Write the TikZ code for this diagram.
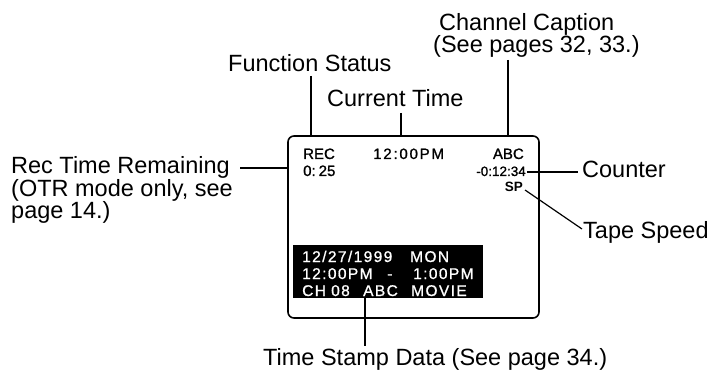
\documentclass[tikz,border=0pt]{standalone}
\usepackage{fontspec}
\setmainfont{Liberation Sans}
\newfontfamily\osdfont[FakeBold=1.2]{Liberation Sans}
\newfontfamily\osdclock[LetterSpace=12,FakeBold=1.2]{Liberation Sans}
\newfontfamily\osdwide[LetterSpace=9,FakeBold=1]{Liberation Sans}
\begin{document}
\begin{tikzpicture}[x=1pt,y=-1pt,
  lbl/.style={inner sep=0pt, font=\fontsize{23.5pt}{22.5pt}\selectfont, align=left},
  osdtxt/.style={inner sep=0pt, font=\osdfont\fontsize{15pt}{15pt}\selectfont},
  osdsmall/.style={inner sep=0pt, font=\osdfont\fontsize{13.5pt}{13.5pt}\selectfont},
  tstxt/.style={inner sep=0pt, text=white, font=\osdwide\fontsize{15.5pt}{15.5pt}\selectfont},
  conn/.style={line width=1.2pt},
  screen/.style={draw, line width=1.6pt, rounded corners=6pt, minimum width=251pt, minimum height=182pt, inner sep=0pt},
  tsbox/.style={fill=black, minimum width=190pt, minimum height=53pt, inner sep=0pt}]
\useasboundingbox (0,0) rectangle (708,371);

% screen and time stamp box
\node[screen] (scr) at (413.5,227) {};
\node[tsbox] (tsb) at (388,271.5) {};

% on-screen texts
\node[osdtxt, anchor=base west] (rec) at (303,159) {REC};
\node[osdtxt, anchor=base west] (remain) at (303,176) {0:\hspace{3pt}25};
\node[osdtxt, anchor=base west, font=\osdclock\fontsize{15pt}{15pt}\selectfont] (clock) at (373,159) {12:00PM};
\node[osdtxt, anchor=base east] (abc) at (524,159) {ABC};
\node[osdsmall, anchor=base east] (cnt) at (526,176) {-0:12:34};
\node[osdsmall, anchor=base east, font=\bfseries\fontsize{13.5pt}{13.5pt}\selectfont] (sp) at (523,192) {SP};

\node[tstxt, anchor=base west] (ts1) at (302,262) {\makebox[108pt][l]{12/27/1999}MON};
\node[tstxt, anchor=base west] (ts2) at (302,279) {\makebox[85pt][l]{12:00PM}\makebox[26pt][l]{-}1:00PM};
\node[tstxt, anchor=base west] (ts3) at (302,296) {\makebox[29pt][l]{CH}\makebox[32pt][l]{08}\makebox[48pt][l]{ABC}MOVIE};

% labels
\node[lbl, anchor=base west] (fs) at (228,72) {Function Status};
\node[lbl, anchor=base west] (ct) at (327,106.5) {Current Time};
\node[lbl, anchor=north west] (cc) at (433,13) {\hspace*{6pt}Channel Caption\\(See pages 32, 33.)};
\node[lbl, anchor=north west] (rtr) at (11,156.5) {Rec Time Remaining\\(OTR mode only, see\\page 14.)};
\node[lbl, anchor=base west] (counter) at (582,178) {Counter};
\node[lbl, anchor=base west] (tape) at (583,238) {Tape Speed};
\node[lbl, anchor=base west] (tsd) at (263,365) {Time Stamp Data (See page 34.)};

% connector end points
\coordinate (fs-a) at (311,76);
\coordinate (fs-b) at (311,136);
\coordinate (ct-a) at (401,113);
\coordinate (ct-b) at (401,136);
\coordinate (cc-a) at (508,60);
\coordinate (cc-b) at (508,136);
\coordinate (rtr-a) at (240,168);
\coordinate (rtr-b) at (288,168);
\coordinate (cnt-a) at (527,172);
\coordinate (cnt-b) at (578,172);
\coordinate (sp-a) at (525,190);
\coordinate (sp-b) at (582,229);
\coordinate (tsd-a) at (365,298);
\coordinate (tsd-b) at (365,346);

\draw[conn] (fs-a) -- (fs-b);
\draw[conn] (ct-a) -- (ct-b);
\draw[conn] (cc-a) -- (cc-b);
\draw[conn] (rtr-a) -- (rtr-b);
\draw[conn] (cnt-a) -- (cnt-b);
\draw[conn] (sp-a) -- (sp-b);
\draw[conn] (tsd-a) -- (tsd-b);
\end{tikzpicture}
\end{document}
